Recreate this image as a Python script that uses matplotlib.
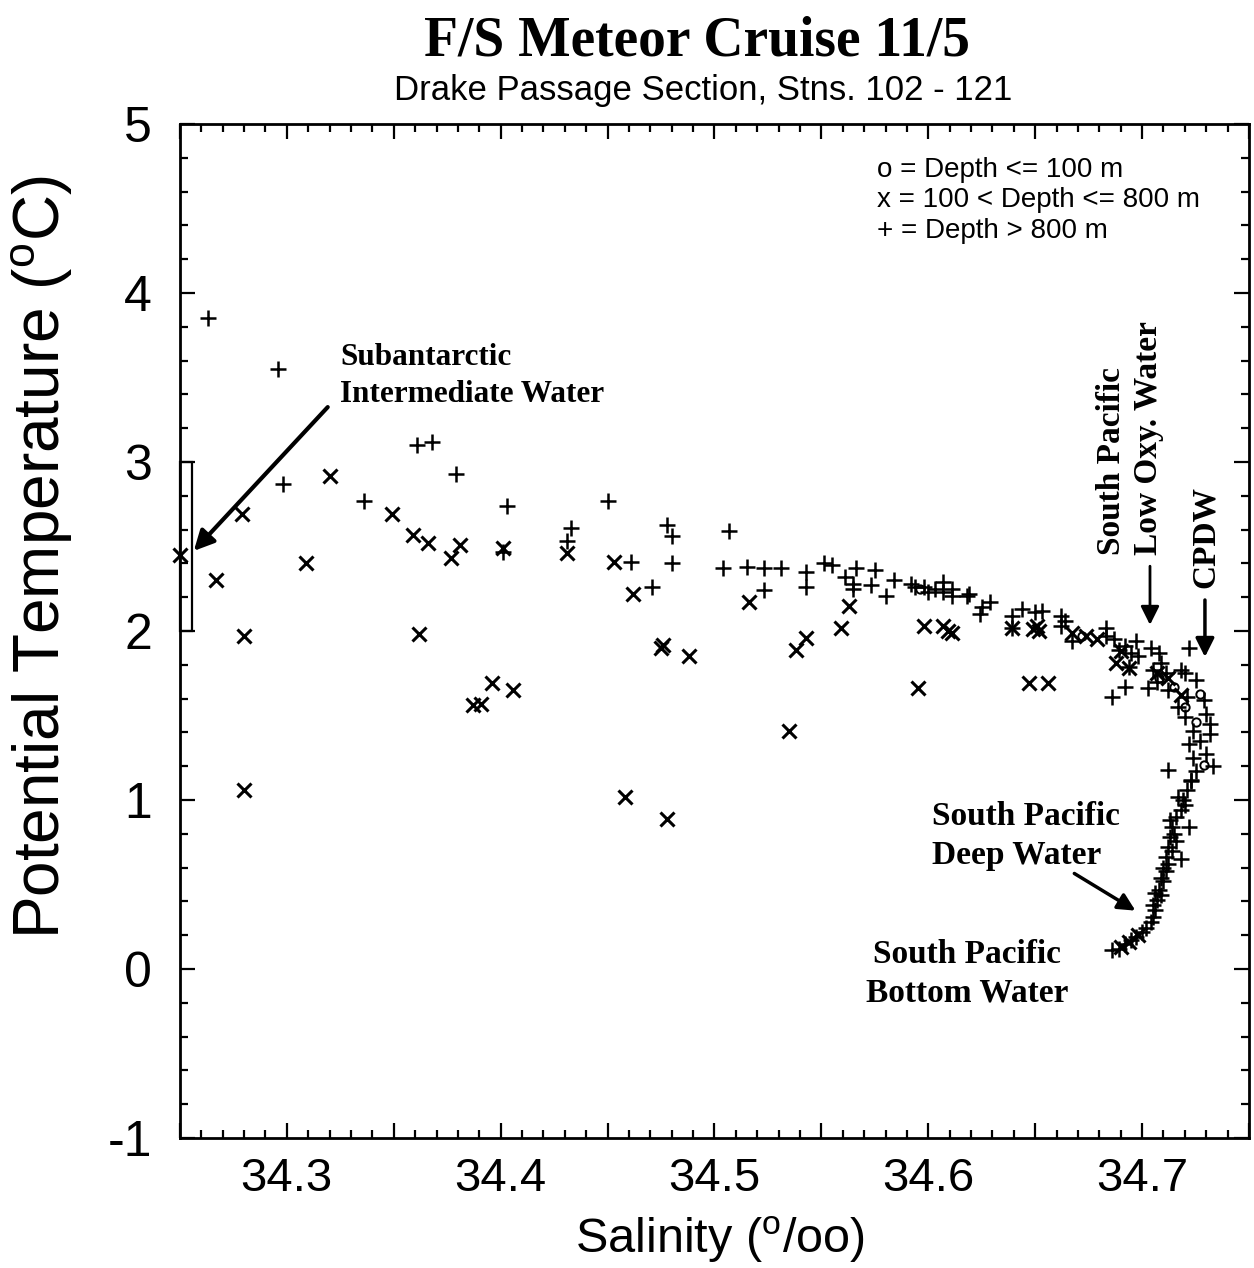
import matplotlib.pyplot as plt
import numpy as np
from matplotlib.ticker import MultipleLocator, FuncFormatter
from matplotlib.patches import Rectangle

plt.rcParams['font.family'] = ['Liberation Sans', 'DejaVu Sans']
plt.rcParams['mathtext.fontset'] = 'custom'
plt.rcParams['mathtext.rm'] = 'Liberation Sans'
plt.rcParams['axes.unicode_minus'] = False

# salinity, potential temperature
# o = depth <= 100 m
shallow = np.array([
    [34.596, 2.25], [34.672, 1.97], [34.715, 1.67], [34.727, 1.63],
    [34.725, 1.46], [34.729, 1.21], [34.708, 1.72], [34.720, 1.55],
])

# x = 100 < depth <= 800 m
intermediate = np.array([
    [34.250, 2.45], [34.267, 2.30], [34.279, 2.69], [34.280, 1.97],
    [34.280, 1.06], [34.309, 2.40], [34.320, 2.92], [34.349, 2.69],
    [34.359, 2.57], [34.366, 2.52], [34.362, 1.98], [34.377, 2.43],
    [34.381, 2.51], [34.387, 1.56], [34.391, 1.57], [34.396, 1.69],
    [34.406, 1.65], [34.401, 2.49], [34.431, 2.46], [34.453, 2.41],
    [34.462, 2.22], [34.475, 1.90], [34.476, 1.92], [34.488, 1.85],
    [34.458, 1.02], [34.478, 0.89], [34.516, 2.17], [34.538, 1.89],
    [34.543, 1.96], [34.535, 1.41], [34.559, 2.02], [34.563, 2.15],
    [34.595, 1.66], [34.598, 2.03], [34.607, 2.03], [34.609, 2.00],
    [34.611, 1.99], [34.639, 2.02], [34.649, 2.01], [34.651, 2.03],
    [34.652, 2.00], [34.647, 1.69], [34.656, 1.69], [34.667, 1.99],
    [34.674, 1.97], [34.679, 1.95], [34.688, 1.81], [34.694, 1.78],
    [34.707, 1.75], [34.690, 1.88], [34.712, 1.72], [34.718, 1.62],
    [34.690, 0.13], [34.694, 0.16], [34.698, 0.20],
])

# + = depth > 800 m
deep = np.array([
    [34.263, 3.85], [34.296, 3.55], [34.298, 2.87], [34.336, 2.77],
    [34.361, 3.10], [34.368, 3.12], [34.379, 2.93], [34.403, 2.74],
    [34.401, 2.47], [34.433, 2.61], [34.431, 2.53], [34.450, 2.77],
    [34.478, 2.63], [34.480, 2.56], [34.480, 2.40], [34.471, 2.26],
    [34.461, 2.41], [34.507, 2.59], [34.504, 2.37], [34.515, 2.38],
    [34.523, 2.37], [34.531, 2.37], [34.523, 2.24], [34.543, 2.35],
    [34.543, 2.26], [34.551, 2.40], [34.555, 2.39], [34.561, 2.32],
    [34.566, 2.37], [34.565, 2.28], [34.565, 2.25], [34.573, 2.27],
    [34.575, 2.36], [34.580, 2.21], [34.584, 2.30], [34.592, 2.28],
    [34.594, 2.26], [34.598, 2.26], [34.600, 2.23], [34.603, 2.25],
    [34.607, 2.29], [34.607, 2.23], [34.611, 2.25], [34.611, 2.21],
    [34.618, 2.21], [34.619, 2.22], [34.624, 2.10], [34.625, 2.14],
    [34.629, 2.17], [34.639, 2.09], [34.639, 2.02], [34.644, 2.13],
    [34.650, 2.11], [34.653, 2.12], [34.662, 2.09], [34.664, 2.06],
    [34.662, 2.03], [34.667, 1.94], [34.683, 2.02], [34.683, 1.97],
    [34.687, 1.95], [34.689, 1.89], [34.692, 1.91], [34.695, 1.87],
    [34.697, 1.94], [34.698, 1.85], [34.694, 1.79], [34.692, 1.67],
    [34.686, 1.61], [34.704, 1.90], [34.708, 1.87], [34.709, 1.81],
    [34.705, 1.77], [34.707, 1.70], [34.703, 1.66], [34.711, 1.75],
    [34.712, 1.65], [34.718, 1.77], [34.722, 1.90], [34.720, 1.75],
    [34.721, 1.61], [34.717, 1.55], [34.720, 1.49], [34.725, 1.71],
    [34.729, 1.59], [34.730, 1.51], [34.732, 1.45], [34.724, 1.41],
    [34.722, 1.33], [34.727, 1.35], [34.732, 1.39], [34.724, 1.25],
    [34.730, 1.27], [34.733, 1.20], [34.725, 1.17], [34.723, 1.11],
    [34.712, 1.18],
    # deep water curve
    [34.686, 0.11], [34.689, 0.12], [34.692, 0.15], [34.695, 0.17],
    [34.697, 0.19], [34.700, 0.22], [34.702, 0.24], [34.704, 0.28],
    [34.705, 0.31], [34.706, 0.35], [34.705, 0.38], [34.707, 0.41],
    [34.709, 0.44], [34.706, 0.45], [34.708, 0.47], [34.710, 0.52],
    [34.709, 0.54], [34.711, 0.58], [34.710, 0.60], [34.712, 0.62],
    [34.718, 0.65], [34.711, 0.66], [34.714, 0.70], [34.712, 0.72],
    [34.716, 0.76], [34.713, 0.78], [34.715, 0.80], [34.714, 0.84],
    [34.722, 0.84], [34.713, 0.88], [34.716, 0.90], [34.718, 0.94],
    [34.720, 0.97], [34.719, 1.00], [34.717, 1.02], [34.721, 1.06],
    [34.723, 1.12],
])

fig = plt.figure(figsize=(12.54, 12.68), dpi=100)
ax = fig.add_axes([0.1435, 0.1025, 0.8525, 0.7997])

x, y = shallow.T
ax.plot(x, y, ls='none', marker='o', ms=6, mfc='none', mec='k', mew=1.4, clip_on=False)
x, y = intermediate.T
ax.plot(x, y, ls='none', marker='x', ms=10.5, mec='k', mew=2.2, clip_on=False)
x, y = deep.T
ax.plot(x, y, ls='none', marker='+', ms=12, mec='k', mew=1.8, clip_on=False)

ax.set_xlim(34.25, 34.75)
ax.set_ylim(-1, 5)

ax.xaxis.set_major_locator(MultipleLocator(0.05))
ax.xaxis.set_minor_locator(MultipleLocator(0.01))
ax.xaxis.set_major_formatter(FuncFormatter(
    lambda v, p: f'{v:.1f}' if abs(v * 10 - round(v * 10)) < 1e-6 and v < 34.745 else ''))
ax.yaxis.set_major_locator(MultipleLocator(1))
ax.yaxis.set_minor_locator(MultipleLocator(0.2))

ax.tick_params(which='both', direction='in', top=True, right=True, width=1.6, color='k')
ax.tick_params(which='major', length=11)
ax.tick_params(which='minor', length=6)
ax.tick_params(axis='x', which='major', labelsize=34, pad=14)
ax.tick_params(axis='y', which='major', labelsize=36, pad=20)
for s in ax.spines.values():
    s.set_linewidth(2)

ax.set_xlabel(r'Salinity ($\mathregular{^o}$/oo)', fontsize=35)
ax.xaxis.set_label_coords(0.505, -0.076)
ax.set_ylabel(r'Potential Temperature ($\mathregular{^o}$C)', fontsize=46)
ax.yaxis.set_label_coords(-0.098, 0.573)

fig.text(0.556, 0.967, 'F/S Meteor Cruise 11/5', family='Liberation Serif',
         weight='bold', fontsize=40, ha='center', va='center')
fig.text(0.561, 0.929, 'Drake Passage Section, Stns. 102 - 121', family='Liberation Sans',
         fontsize=25, ha='center', va='center')

ax.text(0.652, 0.9675, 'o = Depth <= 100 m\nx = 100 < Depth <= 800 m\n+ = Depth > 800 m',
        transform=ax.transAxes, family='Liberation Sans', fontsize=20,
        ha='left', va='top', linespacing=1.22)

bold = dict(family='Liberation Serif', weight='bold', fontsize=24)

ax.add_patch(Rectangle((34.25, 2.0), 0.0055, 1.0, fill=False, lw=1.6, ec='k', clip_on=False))
ax.text(34.325, 3.509, 'Subantarctic\nIntermediate Water', ha='left', va='center',
        multialignment='left', linespacing=1.4, family='Liberation Serif',
        weight='bold', fontsize=22.5)
ax.annotate('', xy=(34.2556, 2.462), xytext=(34.320, 3.337),
            arrowprops=dict(arrowstyle='-|>', lw=3, color='k', mutation_scale=30))

ax.text(34.6944, 2.45, 'South Pacific\nLow Oxy. Water', rotation=90, ha='center', va='bottom',
        multialignment='left', linespacing=1.25, **bold)
ax.annotate('', xy=(34.7037, 2.02), xytext=(34.7037, 2.40),
            arrowprops=dict(arrowstyle='-|>', lw=2, color='k', mutation_scale=28))

ax.text(34.7294, 2.254, 'CPDW', rotation=90, ha='center', va='bottom', **bold)
ax.annotate('', xy=(34.7294, 1.83), xytext=(34.7294, 2.20),
            arrowprops=dict(arrowstyle='-|>', lw=2.5, color='k', mutation_scale=28))

ax.text(34.6017, 0.787, 'South Pacific\nDeep Water', ha='left', va='center',
        multialignment='left', linespacing=1.3, **bold)
ax.annotate('', xy=(34.698, 0.337), xytext=(34.6672, 0.574),
            arrowprops=dict(arrowstyle='-|>', lw=2.5, color='k', mutation_scale=26))

ax.text(34.618, -0.030, 'South Pacific\nBottom Water', ha='center', va='center',
        multialignment='center', linespacing=1.3, **bold)

fig.savefig('out.png', dpi=100)
